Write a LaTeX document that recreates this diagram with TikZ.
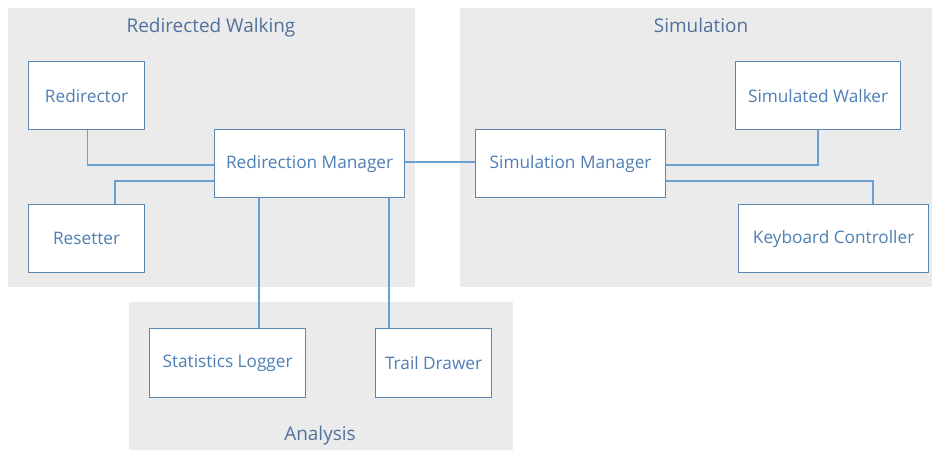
\documentclass[tikz,border=0pt]{standalone}
\usepackage{fontspec}
\setmainfont{Open Sans}
\definecolor{grp}{HTML}{EBEBEB}
\definecolor{bord}{HTML}{5A86B2}
\definecolor{txt}{HTML}{4F7FB5}
\definecolor{ttl}{HTML}{4F719A}
\definecolor{wire}{HTML}{6A9FD2}
\pgfdeclarelayer{grplayer}
\pgfdeclarelayer{wirelayer}
\pgfsetlayers{grplayer,wirelayer,main}
\tikzset{
  grpbox/.style={fill=grp,draw=none},
  comp/.style={draw=bord,line width=1.2bp,fill=white,text=txt,font=\fontsize{17.3}{20}\selectfont,inner sep=0pt,anchor=north west},
  grptitle/.style={text=ttl,font=\fontsize{19}{22}\selectfont,inner sep=0pt,anchor=base},
  wireline/.style={draw=wire,line width=1.1bp}
}
\begin{document}
\begin{tikzpicture}[x=1bp,y=-1bp]
\useasboundingbox (0,0) rectangle (934,451);
\begin{pgfonlayer}{grplayer}
\fill[white] (0,0) rectangle (934,451);
\path[grpbox] (8,8) rectangle (415,287);
\path[grpbox] (460,8) rectangle (932,287);
\path[grpbox] (129,302) rectangle (513,450);
\end{pgfonlayer}
\node[grptitle] (t1) at (211,32.5) {Redirected Walking};
\node[grptitle] (t2) at (701,32.5) {Simulation};
\node[grptitle] (t3) at (320,440.5) {Analysis};
% components
\node[comp,minimum width=116bp,minimum height=68bp] (red) at (28,61) {Redirector};
\node[comp,minimum width=190bp,minimum height=68bp] (rm) at (214,129) {Redirection Manager};
\node[comp,minimum width=116bp,minimum height=68bp] (res) at (28,204) {Resetter};
\node[comp,minimum width=156bp,minimum height=69bp] (sl) at (149,328) {Statistics Logger};
\node[comp,minimum width=116bp,minimum height=69bp] (td) at (375,328) {Trail Drawer};
\node[comp,minimum width=190bp,minimum height=68bp] (sm) at (475,129) {Simulation Manager};
\node[comp,minimum width=165bp,minimum height=68bp] (sw) at (735,61) {Simulated Walker};
\node[comp,minimum width=190bp,minimum height=68bp] (kc) at (738,204) {Keyboard Controller};
% connectors
\begin{pgfonlayer}{wirelayer}
\draw[wireline] (red.south) ++(1,0) coordinate (a1) -- (a1 |- 0,165) -- (rm.west |- 0,165);
\draw[wireline] (rm.west |- 0,181) -- (115,181) -- (res.north -| 115,0);
\draw[wireline] (rm.south -| 259,0) -- (sl.north -| 259,0);
\draw[wireline] (rm.south -| 389,0) -- (td.north -| 389,0);
\draw[wireline] (rm.east |- 0,162) -- (sm.west |- 0,162);
\draw[wireline] (sm.east |- 0,165) -- (818,165) -- (sw.south -| 818,0);
\draw[wireline] (sm.east |- 0,181) -- (873,181) -- (kc.north -| 873,0);
\end{pgfonlayer}
\end{tikzpicture}
\end{document}
